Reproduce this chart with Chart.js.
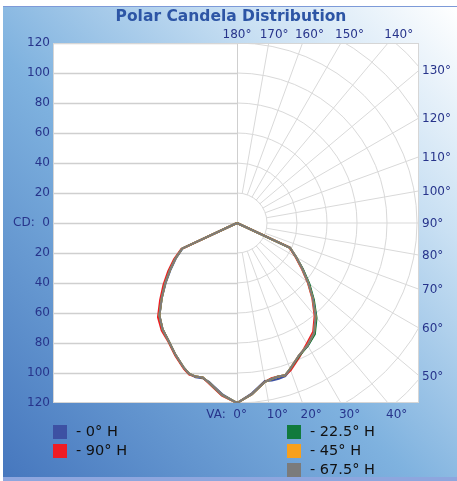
<!DOCTYPE html>
<html>
<head>
<meta charset="utf-8">
<script src="https://cdn.jsdelivr.net/npm/chart.js@4.4.1/dist/chart.umd.min.js"></script>
<style>
  html, body { margin: 0; padding: 0; background: #fff; }
  #panel {
    position: absolute; left: 3px; top: 6px; width: 454px; height: 471px;
    border-top: 1px solid #7d9ad8;
    background: linear-gradient(to top right, #4677be 0%, #7fb2df 45%, #c9e0f3 75%, #ffffff 100%);
  }
  #strip { position: absolute; left: 3px; top: 477px; width: 454px; height: 4px; background: #8ea6de; }
  canvas { position: absolute; left: 0; top: 0; }
</style>
</head>
<body>
<div id="panel"></div>
<div id="strip"></div>
<canvas id="polarChart" width="457" height="481"></canvas>
<script>
// vertical angles (deg from nadir) and candela per horizontal plane
const verticalAngles = [0, 5, 10, 12.5, 15, 17.5, 20, 25, 30, 35, 40, 45, 50, 55, 60, 65, 70, 90];

// right half = H plane, left half = opposite plane (H + 180)
const h0Right   = [120, 114, 107, 107.5, 107.5, 107, 104, 97.5, 94.5, 90, 82, 72, 62.5, 53.5, 45.5, 39, 0, 0];
const h0Left    = [120, 114.5, 107.5, 106, 106.5, 105.5, 103, 97, 91, 86.5, 80.5, 71, 62, 54, 47, 40, 0, 0];
const h225Right = [120, 114.5, 107.5, 106.5, 106, 106.5, 103.5, 98, 94.5, 90.5, 82.5, 72.5, 63, 53.5, 45.5, 39, 0, 0];
const h225Left  = [120, 115, 108, 105.5, 106, 105.5, 103, 97, 91, 86.5, 80.5, 71, 62.5, 54.5, 47.5, 40.5, 0, 0];
const h45Right  = [120, 114.5, 107.5, 106.5, 106, 106.5, 103.5, 97.5, 94, 89.5, 81.5, 71.5, 62, 53, 45.5, 39, 0, 0];
const h45Left   = [120, 115, 108, 105.5, 106, 105.5, 103, 97, 91, 86.5, 80.5, 71, 62.5, 54.5, 47.5, 40.5, 0, 0];
const h675Right = [120, 114.5, 107.5, 106.5, 106, 106.5, 103.5, 97.5, 94, 89.5, 81.5, 71.5, 62, 53, 45.5, 39, 0, 0];
const h675Left  = [120, 115, 108, 105.5, 106, 105.5, 103, 97, 91, 86.5, 80.5, 71, 62.5, 54.5, 47.5, 40.5, 0, 0];
const h90Right  = [120, 114.5, 107.5, 106, 106, 106.5, 104.5, 98.5, 93, 88.5, 80.5, 71, 61.5, 52.5, 45, 38.5, 0, 0];
const h90Left   = [120, 115.5, 108.5, 105.5, 106, 106, 103.5, 97.5, 91.5, 87.5, 82, 72.5, 64, 56, 48.5, 41, 0, 0];

const seriesLabels = ["0° H", "22.5° H", "45° H", "67.5° H", "90° H"];
const seriesColors = ["#3d51a3", "#117a3d", "#f8a01c", "#7b7b7b", "#ee1c24"];
const seriesRight = [h0Right, h225Right, h45Right, h675Right, h90Right];
const seriesLeft = [h0Left, h225Left, h45Left, h675Left, h90Left];

const cdTicks = [-120, -100, -80, -60, -40, -20, 0, 20, 40, 60, 80, 100, 120];
const gridRadii = [20, 40, 60, 80, 100, 120, 140, 160];
const angleTicks = [0, 10, 20, 30, 40, 50, 60, 70, 80, 90, 100, 110, 120, 130, 140, 150, 160, 170, 180];

const rad = d => d * Math.PI / 180;

function toPoints(left, right) {
    const pts = [];
    for (let i = verticalAngles.length - 1; i >= 0; i--) {
        const a = rad(verticalAngles[i]);
        pts.push({ x: -left[i] * Math.sin(a), y: -left[i] * Math.cos(a) });
    }
    for (let i = 0; i < verticalAngles.length; i++) {
        const a = rad(verticalAngles[i]);
        pts.push({ x: right[i] * Math.sin(a), y: -right[i] * Math.cos(a) });
    }
    return pts;
}

const drawOrder = [4, 2, 1, 0, 3];
const datasets = seriesLabels.map((label, i) => ({
    label: label,
    data: toPoints(seriesLeft[i], seriesRight[i]),
    borderColor: seriesColors[i],
    backgroundColor: seriesColors[i],
    borderWidth: 2,
    pointRadius: 0,
    showLine: true,
    fill: false,
    order: drawOrder[i]
}));

const tickColor = "#27348b";
const tickFont = "12px 'DejaVu Sans'";

const polarGrid = {
    id: "polarGrid",
    beforeDatasetsDraw(chart) {
        const { ctx, chartArea: ca, scales: { x, y } } = chart;
        const cx = x.getPixelForValue(0);
        const cy = y.getPixelForValue(0);
        const unit = x.getPixelForValue(1) - cx;

        ctx.save();
        ctx.fillStyle = "#ffffff";
        ctx.fillRect(ca.left, ca.top, ca.right - ca.left, ca.bottom - ca.top);

        ctx.beginPath();
        ctx.rect(ca.left, ca.top, ca.right - ca.left, ca.bottom - ca.top);
        ctx.clip();

        // polar grid on the right half
        ctx.strokeStyle = "#d9d9d9";
        ctx.lineWidth = 1;
        gridRadii.forEach(r => {
            ctx.beginPath();
            ctx.arc(cx, cy, r * unit, -Math.PI / 2, Math.PI / 2);
            ctx.stroke();
        });
        angleTicks.forEach(va => {
            if (va === 0 || va === 180) return;
            const a = rad(va);
            ctx.beginPath();
            ctx.moveTo(cx + 20 * unit * Math.sin(a), cy + 20 * unit * Math.cos(a));
            ctx.lineTo(cx + 250 * unit * Math.sin(a), cy + 250 * unit * Math.cos(a));
            ctx.stroke();
        });

        // cd lines on the left half
        ctx.strokeStyle = "#cfcfcf";
        ctx.lineWidth = 1.5;
        cdTicks.forEach(v => {
            const py = Math.round(y.getPixelForValue(v)) + 0.5;
            ctx.beginPath();
            ctx.moveTo(ca.left, py);
            ctx.lineTo(cx, py);
            ctx.stroke();
        });
        ctx.lineWidth = 1;
        ctx.beginPath();
        ctx.moveTo(Math.round(cx) + 0.5, ca.top);
        ctx.lineTo(Math.round(cx) + 0.5, ca.bottom);
        ctx.stroke();
        ctx.restore();

        ctx.save();
        ctx.strokeStyle = "#d6d6d6";
        ctx.lineWidth = 1;
        ctx.strokeRect(ca.left + 0.5, ca.top + 0.5, ca.right - ca.left - 1, ca.bottom - ca.top - 1);

        // angle labels where the rays leave the plot
        ctx.font = tickFont;
        ctx.fillStyle = tickColor;
        ctx.textBaseline = "middle";
        angleTicks.forEach(va => {
            const a = rad(va);
            const text = va === 0 ? "VA:  0°" : va + "°";
            if (va === 0) {
                ctx.textAlign = "right";
                ctx.fillText(text, cx + 10, ca.bottom + 12);
            } else if (va === 180) {
                ctx.textAlign = "center";
                ctx.fillText(text, cx, ca.top - 8);
            } else if (va < 90 && (ca.bottom - cy) * Math.tan(a) < ca.right - cx) {
                ctx.textAlign = "left";
                ctx.fillText(text, cx + (ca.bottom - cy) * Math.tan(a) - 2, ca.bottom + 12);
            } else if (va > 90 && (cy - ca.top) * Math.tan(Math.PI - a) < ca.right - cx) {
                ctx.textAlign = "center";
                ctx.fillText(text, cx + (cy - ca.top + 8) * Math.tan(Math.PI - a) + 4, ca.top - 8);
            } else {
                ctx.textAlign = "left";
                const py = cy + (ca.right - cx) / Math.tan(a);
                ctx.fillText(text, ca.right + 3, py + 1);
            }
        });
        ctx.restore();
    }
};

// title and custom two-column legend
const legendSlots = [[0, 0], [1, 0], [1, 1], [1, 2], [0, 1]];
const legendBox = {
    id: "legendBox",
    afterDraw(chart) {
        const ctx = chart.ctx;
        ctx.save();
        ctx.font = "bold 15.5px 'DejaVu Sans'";
        ctx.fillStyle = "#2d55a5";
        ctx.textAlign = "center";
        ctx.textBaseline = "middle";
        ctx.fillText("Polar Candela Distribution", 231, 17);

        const colX = [53, 287];
        const rowY = [425, 444, 463];
        ctx.font = "14.5px 'DejaVu Sans'";
        ctx.textAlign = "left";
        chart.data.datasets.forEach((ds, i) => {
            const [c, r] = legendSlots[i];
            ctx.fillStyle = ds.borderColor;
            ctx.fillRect(colX[c], rowY[r], 14, 14);
            ctx.fillStyle = "#111111";
            ctx.fillText("- " + ds.label, colX[c] + 23, rowY[r] + 7);
        });
        ctx.restore();
    }
};

new Chart(document.getElementById("polarChart"), {
    type: "scatter",
    data: { datasets: datasets },
    options: {
        responsive: false,
        animation: false,
        devicePixelRatio: 1,
        layout: { padding: { top: 43, right: 38, bottom: 78, left: 0 } },
        plugins: {
            legend: { display: false },
            tooltip: { enabled: false },
            title: { display: false }
        },
        scales: {
            x: { type: "linear", min: -122.67, max: 121.33, display: false },
            y: {
                type: "linear", min: -120, max: 120,
                grid: { display: false, drawTicks: false },
                border: { display: false },
                ticks: {
                    stepSize: 20,
                    padding: 3,
                    color: tickColor,
                    font: { family: "'DejaVu Sans'", size: 12 },
                    callback: v => v === 0 ? "CD:  0" : Math.abs(v)
                },
                afterFit: scale => { scale.width = 53; }
            }
        }
    },
    plugins: [polarGrid, legendBox]
});
</script>
</body>
</html>
